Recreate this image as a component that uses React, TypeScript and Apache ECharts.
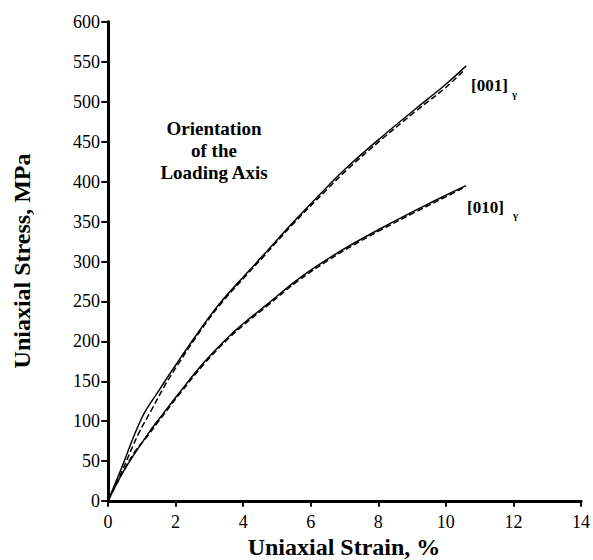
import React, { useEffect, useRef } from "react";
import * as echarts from "echarts";

// [strain %, stress MPa]
const solid001: [number, number][] = [
  [0, 0], [0.35, 36], [1.0, 104], [1.5, 138], [2.0, 170], [2.7, 213], [3.3, 247],
  [4.1, 285], [4.6, 308], [5.5, 350], [6.5, 394], [7.1, 419], [8.1, 456],
  [9.1, 491], [10.0, 522], [10.6, 545],
];
const dashed001: [number, number][] = [
  [0, 0], [0.4, 36], [0.9, 84], [1.3, 115], [1.7, 146], [2.1, 173], [2.7, 211],
  [3.3, 245], [4.1, 283], [4.6, 306], [5.5, 348], [6.5, 391], [7.1, 416],
  [8.1, 453], [9.1, 488], [10.0, 518], [10.5, 538],
];
const solid010: [number, number][] = [
  [0, 0], [0.47, 38], [1.2, 85], [1.5, 102], [2.1, 135], [2.85, 174], [3.6, 207],
  [4.0, 222], [4.7, 246], [5.6, 277], [6.5, 303], [7.2, 321], [8.1, 342],
  [9.1, 364], [10.0, 383], [10.6, 395],
];
const dashed010: [number, number][] = [
  [0, 0], [0.4, 33], [0.8, 62], [1.2, 83], [1.5, 100], [2.1, 133], [2.85, 172],
  [3.6, 205], [4.0, 220], [4.7, 244], [5.6, 275], [6.5, 301], [7.2, 319],
  [8.1, 340], [9.1, 362], [10.0, 381], [10.5, 392],
];

const xRange = { min: 0, max: 14, interval: 2 };
const yRange = { min: 0, max: 600, interval: 50 };
const xName = "Uniaxial Strain, %";
const yName = "Uniaxial Stress, MPa";
const noteLines = ["Orientation", "of the", "Loading Axis"];
const label001 = "[001]";
const label010 = "[010]";
const gamma = "γ";

const SERIF = "Liberation Serif";

export default function App() {
  const ref = useRef<HTMLDivElement>(null);
  useEffect(() => {
    if (!ref.current) return;
    const chart = echarts.init(ref.current, null, { renderer: "svg" });
    const axisLine = { show: true, lineStyle: { color: "#000", width: 2.8 } };
    const tickStyle = { color: "#000", width: 1.5 };
    const solidStyle = { color: "#000", width: 1.5, type: "solid" as const };
    const dashStyle = { color: "#000", width: 1.5, type: [6, 3] as any };
    const txt = (extra: any) => ({
      fontFamily: SERIF, fill: "#000", align: "center", verticalAlign: "middle", ...extra,
    });
    chart.setOption({
      animation: false,
      backgroundColor: "#fff",
      textStyle: { fontFamily: SERIF },
      grid: { left: 108, top: 22, width: 476, height: 479 },
      xAxis: [
        {
          type: "value", position: "bottom", ...xRange,
          axisLine, axisTick: { show: true, inside: false, length: 6, lineStyle: tickStyle },
          axisLabel: { fontFamily: SERIF, fontSize: 18, color: "#000", margin: 12 },
          splitLine: { show: false },
        },
        {
          type: "value", position: "top", ...xRange,
          axisLine, axisTick: { show: true, inside: true, length: 5, lineStyle: tickStyle },
          axisLabel: { show: false }, splitLine: { show: false },
        },
      ],
      yAxis: [
        {
          type: "value", position: "left", ...yRange,
          axisLine, axisTick: { show: true, inside: false, length: 7, lineStyle: tickStyle },
          axisLabel: { fontFamily: SERIF, fontSize: 18, color: "#000", margin: 8 },
          splitLine: { show: false },
        },
        {
          type: "value", position: "right", ...yRange,
          axisLine, axisTick: { show: true, inside: true, length: 6, lineStyle: tickStyle },
          axisLabel: { show: false }, splitLine: { show: false },
        },
      ],
      series: [
        { type: "line", data: solid001, showSymbol: false, smooth: 0.4, lineStyle: solidStyle },
        { type: "line", data: dashed001, showSymbol: false, smooth: 0.4, lineStyle: dashStyle },
        { type: "line", data: solid010, showSymbol: false, smooth: 0.4, lineStyle: solidStyle },
        { type: "line", data: dashed010, showSymbol: false, smooth: 0.4, lineStyle: dashStyle },
      ],
      graphic: [
        { type: "text", x: 344, y: 547, style: txt({ text: xName, fontSize: 24, fontWeight: "bold" }) },
        {
          type: "text", x: 22, y: 261, rotation: Math.PI / 2,
          style: txt({ text: yName, fontSize: 24, fontWeight: "bold" }),
        },
        ...noteLines.map((t, i) => ({
          type: "text", x: 214, y: 128 + i * 22,
          style: txt({ text: t, fontSize: 19, fontWeight: "bold" }),
        })),
        { type: "text", x: 471, y: 85, style: txt({ text: label001, fontSize: 17, fontWeight: "bold", align: "left" }) },
        { type: "text", x: 512, y: 94, style: txt({ text: gamma, fontSize: 11, fontWeight: "bold", align: "left" }) },
        { type: "text", x: 467, y: 207, style: txt({ text: label010, fontSize: 17, fontWeight: "bold", align: "left" }) },
        { type: "text", x: 513, y: 215, style: txt({ text: gamma, fontSize: 11, fontWeight: "bold", align: "left" }) },
      ],
    });
    return () => chart.dispose();
  }, []);
  return (
    <div
      ref={ref}
      style={{ position: "fixed", left: 0, top: 0, width: 593, height: 560, background: "#fff" }}
    />
  );
}
